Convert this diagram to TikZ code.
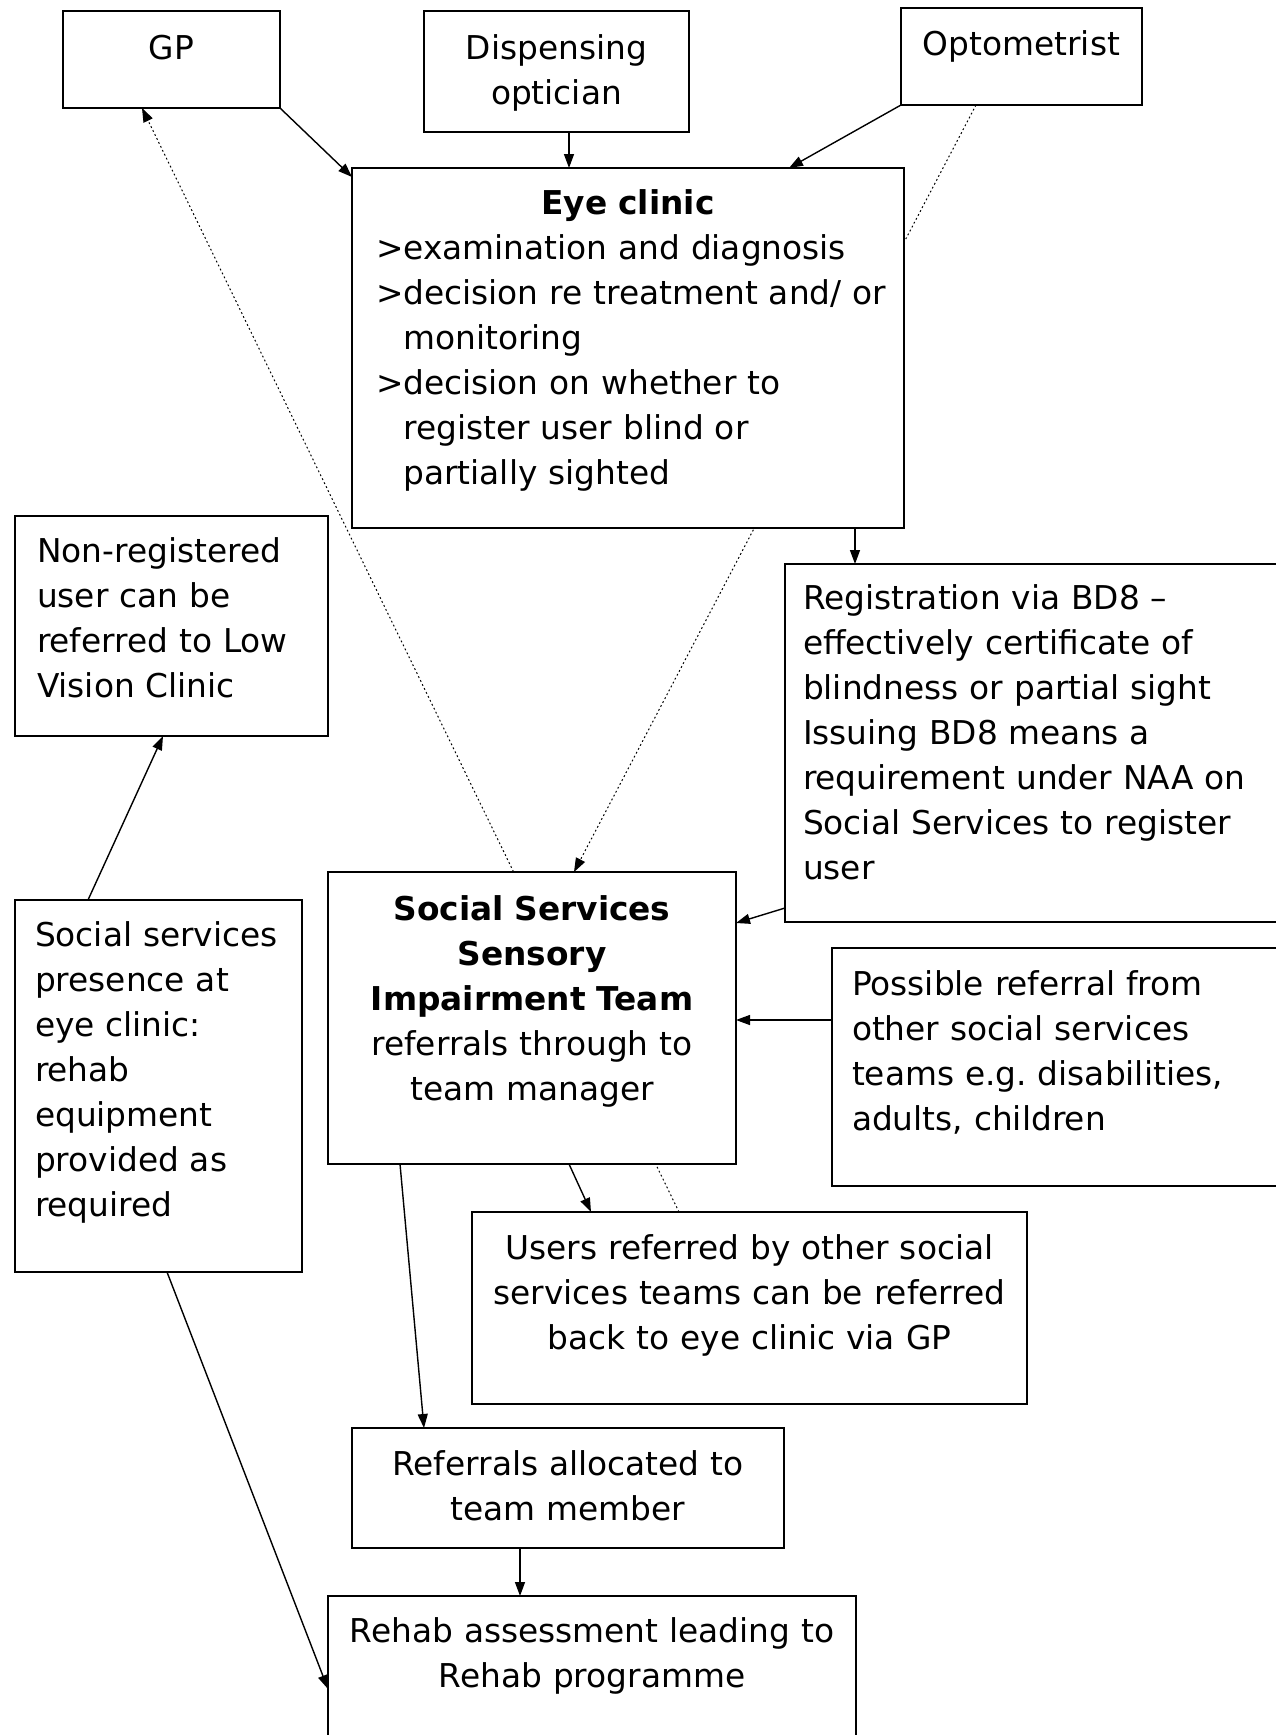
\documentclass[tikz,border=0pt]{standalone}
\usepackage{fontspec}
\setmainfont{DejaVu Sans}
\usetikzlibrary{arrows.meta,fit,backgrounds,calc}
\frenchspacing
\begin{document}
\begin{tikzpicture}[x=0.5pt,y=-0.5pt,
  box/.style={draw, line width=0.9pt, fill=white, inner sep=0pt, outer sep=0pt},
  txt/.style={inner sep=0pt, outer sep=0pt, font=\fontsize{16.4pt}{22.5pt}\selectfont},
  ltxt/.style={txt, align=left, text width=#1, anchor=base west},
  ctxt/.style={txt, align=center, text width=#1, anchor=base},
  tip/.style={-{Triangle[length=7pt,width=5pt]}},
  flow/.style={tip, line width=0.7pt},
  link/.style={tip, line width=0.5pt, dash pattern=on 0.9pt off 1.3pt},
]
\useasboundingbox (0,0) rectangle (1275,1735);

% boxes
\node[box, fit={(63,11) (280,108)}]     (gp)     {};
\node[box, fit={(424,11) (689,132)}]    (disp)   {};
\node[box, fit={(901,8) (1142,105)}]    (opt)    {};
\node[box, fit={(352,168) (904,528)}]   (eye)    {};
\node[box, fit={(15,516) (328,736)}]    (nonreg) {};
\node[box, fit={(785,564) (1290,922)}]  (reg)    {};
\node[box, fit={(328,872) (736,1164)}]  (sssit)  {};
\node[box, fit={(15,900) (302,1272)}]   (ssp)    {};
\node[box, fit={(832,948) (1290,1186)}] (poss)   {};
\node[box, fit={(472,1212) (1027,1404)}] (users) {};
\node[box, fit={(352,1428) (784,1548)}] (alloc)  {};
\node[box, fit={(328,1596) (856,1750)}] (rehab)  {};

% box texts
\node[ctxt=100pt] (gpT)   at (171.5,59) {GP};
\node[ctxt=130pt] (dispT) at (556.5,59) {Dispensing\\optician};
\node[ctxt=120pt] (optT)  at (1021.5,55) {Optometrist};
\node[ctxt=270pt] (eyeT)  at (628,214) {\bfseries Eye clinic};
\node[ltxt=270pt] (eyeB)  at (376,259) {>examination and diagnosis\\>decision re treatment and/ or\\\hphantom{>}monitoring\\>decision on whether to\\\hphantom{>}register user blind or\\\hphantom{>}partially sighted};
\node[ltxt=150pt] (nonregT) at (37,562) {Non-registered\\user can be\\referred to Low\\Vision Clinic};
\node[ltxt=240pt] (regT)  at (803,609) {Registration via BD8 –\\effectively certificate of\\blindness or partial sight\\Issuing BD8 means a\\requirement under NAA on\\Social Services to register\\user};
\node[ctxt=200pt] (sssitT) at (532,920) {{\bfseries Social Services\\Sensory\\Impairment Team}\\referrals through to\\team manager};
\node[ltxt=140pt] (sspT)  at (35,946) {Social services\\presence at\\eye clinic:\\rehab\\equipment\\provided as\\required};
\node[ltxt=220pt] (possT) at (852,995) {Possible referral from\\other social services\\teams e.g. disabilities,\\adults, children};
\node[ctxt=280pt] (usersT) at (749.5,1259) {Users referred by other social\\services teams can be referred\\back to eye clinic via GP};
\node[ctxt=210pt] (allocT) at (568,1475) {Referrals allocated to\\team member};
\node[ctxt=260pt] (rehabT) at (592,1642) {Rehab assessment leading to\\Rehab programme};

% connectors, kept behind the boxes
\begin{scope}[on background layer]
\draw[flow] (gp.south east) -- ($(eye.north west)+(0,9)$);
\draw[flow] ($(disp.south)+(12.5,0)$) -- ($(eye.north)+(-59,0)$);
\draw[flow] (opt.south west) -- ($(eye.north)+(161,0)$);
\draw[link] ($(opt.south)+(-45.5,0)$) -- ($(sssit.north)+(42,0)$);
\draw[link] ($(users.north)+(-70.5,0)$) -- ($(gp.south)+(-29.5,0)$);
\draw[flow] ($(eye.south)+(227,0)$) -- ($(reg.north west)+(70,0)$);
\draw[flow] ($(reg.south west)+(0,-14)$) -- ($(sssit.north east)+(0,51)$);
\draw[flow] ($(poss.north west)+(0,72)$) -- ($(sssit.north east)+(0,148)$);
\draw[flow] ($(ssp.north west)+(73,0)$) -- ($(nonreg.south)+(-8.5,0)$);
\draw[flow] ($(ssp.south west)+(152,0)$) -- ($(rehab.north west)+(0,93)$);
\draw[flow] ($(sssit.south west)+(72,0)$) -- ($(alloc.north west)+(72,0)$);
\draw[flow] ($(sssit.south west)+(241,0)$) -- ($(users.north west)+(119,0)$);
\draw[flow] ($(alloc.south west)+(168,0)$) -- ($(rehab.north west)+(192,0)$);
\end{scope}
\end{tikzpicture}
\end{document}
